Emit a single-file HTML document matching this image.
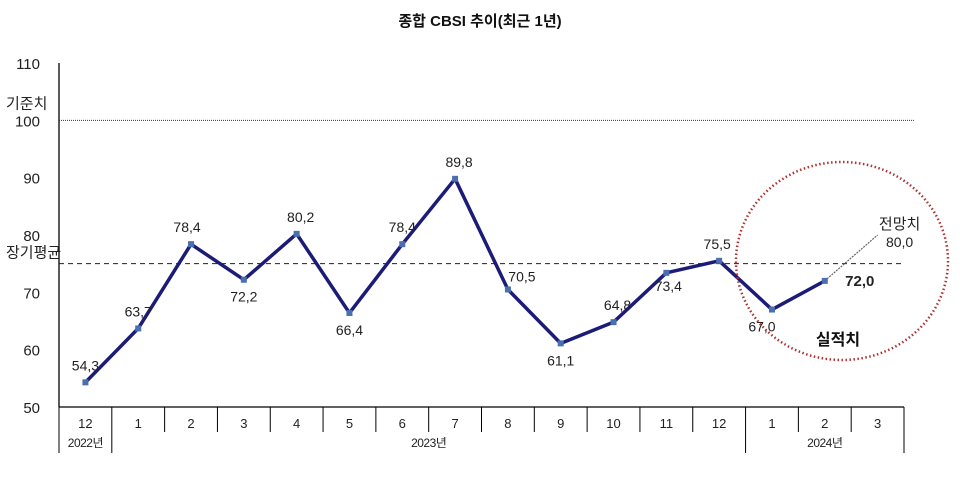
<!DOCTYPE html>
<html><head><meta charset="utf-8"><style>
body{margin:0;background:#fff;}
svg{display:block;font-family:"Liberation Sans","Noto Sans CJK KR",sans-serif;}
</style></head><body>
<svg id="c" width="960" height="480" viewBox="0 0 960 480">
<text x="480" y="26" text-anchor="middle" font-size="15" font-weight="bold" fill="#111">종합 CBSI 추이(최근 1년)</text>
<g id="axes"></g><g id="marks"></g>
</svg>
<script>
const months=["12","1","2","3","4","5","6","7","8","9","10","11","12","1","2","3"];
const values=[54.3,63.7,78.4,72.2,80.2,66.4,78.4,89.8,70.5,61.1,64.8,73.4,75.5,67.0,72.0];
const forecast=80.0;
const yTicks=[50,60,70,80,90,100,110];
const baseline=100, longAvg=75;
const years=[{label:"2022년",from:0,to:1},{label:"2023년",from:1,to:13},{label:"2024년",from:13,to:16}];
const X0=59,X1=904,Y0=407,Y1=63;
const step=(X1-X0)/months.length;
const xs=i=>X0+step*(i+0.5);
const ys=v=>Y0-(v-50)/(110-50)*(Y0-Y1);
const NS="http://www.w3.org/2000/svg";
function mk(p,t,a){const e=document.createElementNS(NS,t);for(const k in a)e.setAttribute(k,a[k]);p.appendChild(e);return e;}
const ax=document.getElementById('axes'),mg=document.getElementById('marks');
let e;
e=mk(ax,'line',{x1:X0,y1:Y1,x2:X0,y2:Y0,stroke:'#000','stroke-width':1.3});


e=mk(ax,'line',{x1:X0,y1:Y0,x2:X1,y2:Y0,stroke:'#000','stroke-width':1.3});


yTicks.forEach(v=>{
 e=mk(ax,'text',{x:40,y:ys(v)+6,'text-anchor':'end','font-size':15,fill:'#222'});e.textContent=v;
 
 
});
e=mk(ax,'line',{x1:X0,y1:ys(baseline),x2:915,y2:ys(baseline),stroke:'#333','stroke-width':1,'stroke-dasharray':'1,1'});


e=mk(ax,'text',{x:6,y:ys(baseline)-12,'font-size':15,fill:'#222'});e.textContent='기준치';


e=mk(ax,'line',{x1:X0,y1:ys(longAvg),x2:905,y2:ys(longAvg),stroke:'#222','stroke-width':1,'stroke-dasharray':'5,4'});


e=mk(ax,'text',{x:6,y:ys(longAvg)-6,'font-size':15,fill:'#222'});e.textContent='장기평균';


for(let i=0;i<=months.length;i++){
 const x=X0+step*i;
 const big=years.some(y=>y.from===i||y.to===i);
 e=mk(ax,'line',{x1:x,y1:Y0,x2:x,y2:big?453:432,stroke:'#000','stroke-width':1});
 
 
}
months.forEach((m,i)=>{
 e=mk(ax,'text',{x:xs(i),y:428,'text-anchor':'middle','font-size':13,fill:'#222'});e.textContent=m;
 
 
});
years.forEach(y=>{
 e=mk(ax,'text',{x:X0+step*(y.from+y.to)/2,y:447,'text-anchor':'middle','font-size':12,fill:'#222','letter-spacing':'-0.5'});e.textContent=y.label;
 
 
});
e=mk(mg,'polyline',{points:values.map((v,i)=>xs(i)+','+ys(v)).join(' '),fill:'none',stroke:'#1c1c78','stroke-width':3.5,'stroke-linejoin':'round'});


const n=values.length;
e=mk(mg,'line',{x1:xs(n-1),y1:ys(values[n-1]),x2:xs(n),y2:ys(forecast),stroke:'#666','stroke-width':1.2,'stroke-dasharray':'2,1'});


const offs=[[0,-12],[0,-12],[-4,-12],[0,22],[4,-12],[0,22],[0,-12],[4,-12],[14,-8],[0,22],[4,-12],[2,18],[-2,-12],[-10,22],[0,0]];
values.forEach((v,i)=>{
 e=mk(mg,'rect',{x:xs(i)-3,y:ys(v)-3,width:6,height:6,fill:'#4a6fb0'});
 
 
 const last=i===n-1;
 e=mk(mg,'text',{x:last?xs(i)+35:xs(i)+offs[i][0],y:last?ys(v)+5:ys(v)+offs[i][1],'text-anchor':'middle','font-size':last?15:14,'font-weight':last?'bold':'normal',fill:'#222'});
 e.textContent=v.toFixed(1).replace('.',',');
 
 
});
e=mk(mg,'text',{x:xs(n)+22,y:ys(forecast)-6,'text-anchor':'middle','font-size':15,fill:'#222'});e.textContent='전망치';


e=mk(mg,'text',{x:xs(n)+22,y:ys(forecast)+12,'text-anchor':'middle','font-size':14,fill:'#222'});e.textContent=forecast.toFixed(1).replace('.',',');


e=mk(mg,'text',{x:838,y:345,'text-anchor':'middle','font-size':16,'font-weight':'bold',fill:'#111'});e.textContent='실적치';


e=mk(mg,'ellipse',{cx:842,cy:261,rx:106,ry:99,fill:'none',stroke:'#b03030','stroke-width':2.5,'stroke-dasharray':'1.5,2.5'});


</script>
</body></html>
